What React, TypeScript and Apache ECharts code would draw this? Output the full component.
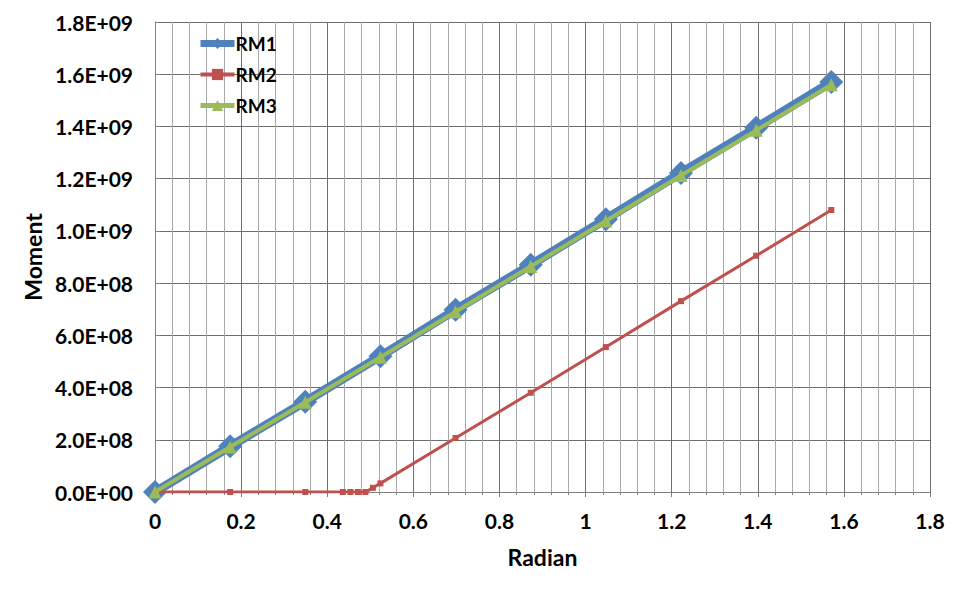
import React, { useEffect, useRef } from "react";
import * as echarts from "echarts";

const radians = [0, 0.1745, 0.349, 0.5236, 0.6981, 0.8727, 1.0472, 1.2217, 1.3963, 1.5708];
const rm1 = [0, 1.75e8, 3.46e8, 5.2e8, 6.98e8, 8.7e8, 1.045e9, 1.222e9, 1.395e9, 1.57e9];
const rm3 = [0, 1.72e8, 3.44e8, 5.16e8, 6.9e8, 8.64e8, 1.038e9, 1.212e9, 1.385e9, 1.56e9];
const rm2X = [0, 0.1745, 0.349, 0.4363, 0.4538, 0.4712, 0.4887, 0.5061, 0.5236, 0.6981, 0.8727, 1.0472, 1.2217, 1.3963, 1.5708];
const rm2Y = [0, 0, 0, 0, 0, 0, 0, 1.6e7, 3.3e7, 2.07e8, 3.8e8, 5.55e8, 7.31e8, 9.05e8, 1.08e9];

const seriesNames = ["RM1", "RM2", "RM3"];
const xTickLabels = ["0", "0.2", "0.4", "0.6", "0.8", "1", "1.2", "1.4", "1.6", "1.8"];

const font = "Lato, 'Open Sans', sans-serif";

function fmtExp(v: number): string {
  if (v === 0) return "0.0E+00";
  const e = Math.floor(Math.log10(Math.abs(v)) + 1e-9);
  const m = v / Math.pow(10, e);
  return m.toFixed(1) + "E+" + String(e).padStart(2, "0");
}

export default function App() {
  const ref = useRef<HTMLDivElement>(null);
  useEffect(() => {
    if (!ref.current) return;
    const chart = echarts.init(ref.current, undefined, { renderer: "svg" });
    chart.setOption({
      animation: false,
      backgroundColor: "#ffffff",
      grid: { left: 155, right: 32, top: 22, bottom: 99, containLabel: false },
      legend: {
        orient: "vertical",
        left: 192,
        top: 29,
        itemGap: 12,
        itemWidth: 34,
        itemHeight: 14,
        textStyle: { fontFamily: font, fontSize: 19, fontWeight: "bold", color: "#000", padding: [0, 0, 0, -4] },
        data: [
          { name: seriesNames[0], lineStyle: { width: 7 } },
          { name: seriesNames[1], lineStyle: { width: 4 } },
          { name: seriesNames[2], lineStyle: { width: 5 } },
        ],
      },
      xAxis: {
        type: "value",
        min: 0,
        max: 1.8,
        interval: 0.2,
        name: "Radian",
        nameLocation: "middle",
        nameGap: 53,
        nameTextStyle: { fontFamily: font, fontSize: 23, fontWeight: "bold", color: "#000" },
        axisLine: { show: true, onZero: false, lineStyle: { color: "#808080", width: 1 } },
        axisTick: { show: true, length: 5, inside: false, lineStyle: { color: "#808080" } },
        minorTick: { show: true, splitNumber: 5, length: 3, lineStyle: { color: "#808080" } },
        axisLabel: {
          margin: 18,
          fontFamily: font,
          fontSize: 21,
          fontWeight: "bold",
          color: "#000",
          formatter: (v: number) => xTickLabels[Math.round(v / 0.2)] ?? String(v),
        },
        splitLine: { show: true, lineStyle: { color: "#6e6e6e", width: 1 } },
        minorSplitLine: { show: true, lineStyle: { color: "#a8a8a8", width: 1 } },
      },
      yAxis: {
        type: "value",
        min: 0,
        max: 1.8e9,
        interval: 2e8,
        name: "Moment",
        nameLocation: "middle",
        nameGap: 110,
        nameRotate: 90,
        nameTextStyle: { fontFamily: font, fontSize: 23, fontWeight: "bold", color: "#000" },
        axisLine: { show: true, lineStyle: { color: "#808080", width: 1 } },
        axisTick: { show: true, length: 5, inside: true, lineStyle: { color: "#808080" } },
        axisLabel: {
          margin: 22,
          fontFamily: font,
          fontSize: 21,
          fontWeight: "bold",
          color: "#000",
          formatter: (v: number) => fmtExp(v),
        },
        splitLine: { show: true, lineStyle: { color: "#6e6e6e", width: 1 } },
      },
      series: [
        {
          name: "RM1",
          type: "line",
          data: radians.map((x, i) => [x, rm1[i]]),
          symbol: "diamond",
          symbolSize: 24,
          lineStyle: { color: "#4F81BD", width: 9 },
          itemStyle: { color: "#4F81BD" },
          z: 2,
        },
        {
          name: "RM2",
          type: "line",
          data: rm2X.map((x, i) => [x, rm2Y[i]]),
          symbol: "rect",
          symbolSize: 6,
          lineStyle: { color: "#C0504D", width: 3 },
          itemStyle: { color: "#C0504D" },
          z: 3,
        },
        {
          name: "RM3",
          type: "line",
          data: radians.map((x, i) => [x, rm3[i]]),
          symbol: "triangle",
          symbolSize: 13,
          lineStyle: { color: "#9BBB59", width: 4 },
          itemStyle: { color: "#9BBB59" },
          z: 4,
        },
      ],
    });
    return () => chart.dispose();
  }, []);
  return <div ref={ref} style={{ width: 962, height: 591, margin: -8 }} />;
}
